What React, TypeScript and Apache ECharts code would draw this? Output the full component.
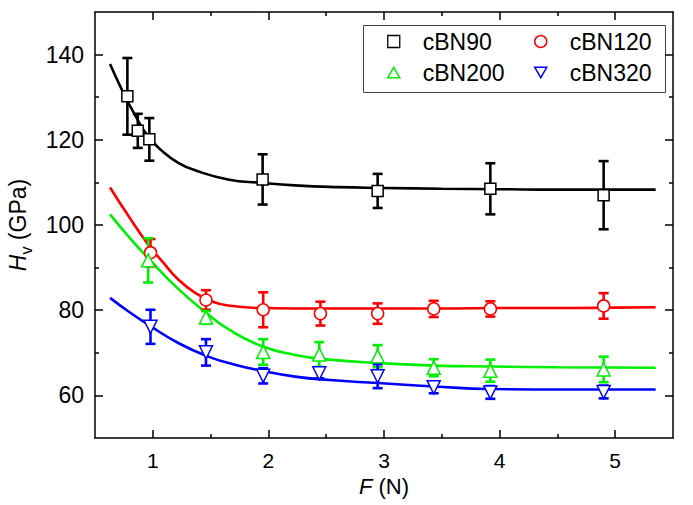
import { useEffect, useRef } from 'react';
import * as echarts from 'echarts';

const FONT = '"Liberation Sans", Arial, Helvetica, sans-serif';

// Tick values
const xTicks = [1, 2, 3, 4, 5];
const xMinor = [1.5, 2.5, 3.5, 4.5];
const yTicks = [60, 80, 100, 120, 140];
const yMinor = [70, 90, 110, 130];

// Measured data (F in N, Hv in GPa, error in GPa)
const cbn90X = [0.78, 0.87, 0.97, 1.95, 2.945, 3.92, 4.9];
const cbn90Y = [130.2, 122.1, 120.1, 110.7, 108.0, 108.5, 107.0];
const cbn90E = [9.0, 4.0, 5.0, 5.9, 4.0, 6.0, 8.0];

const cbn120X = [0.98, 1.46, 1.955, 2.45, 2.945, 3.43, 3.92, 4.9];
const cbn120Y = [93.5, 82.4, 80.1, 79.2, 79.2, 80.3, 80.3, 81.0];
const cbn120E = [3.2, 2.3, 4.1, 2.8, 2.4, 1.9, 1.8, 3.0];

const cbn200X = [0.96, 1.46, 1.955, 2.44, 2.945, 3.43, 3.92, 4.9];
const cbn200Y = [91.7, 78.3, 70.2, 69.6, 69.2, 66.5, 65.8, 66.1];
const cbn200E = [5.2, 1.5, 3.0, 2.9, 2.6, 2.0, 2.6, 3.0];

const cbn320X = [0.98, 1.46, 1.955, 2.44, 2.945, 3.43, 3.92, 4.9];
const cbn320Y = [76.1, 70.1, 64.6, 65.2, 64.5, 61.9, 60.7, 60.8];
const cbn320E = [4.0, 3.1, 1.8, 1.2, 2.8, 1.4, 1.5, 1.5];

// Fitted curves
const fit90X = [0.63, 0.73, 0.85, 0.96, 1.08, 1.22, 1.37, 1.65, 1.94, 2.23, 2.6, 3.0, 3.5, 4.0, 4.5, 5.0, 5.35];
const fit90Y = [137.8, 131.9, 125.6, 120.8, 117.4, 114.6, 112.8, 110.7, 109.9, 109.3, 108.9, 108.7, 108.5, 108.4, 108.3, 108.3, 108.3];

const fit120X = [0.63, 0.79, 0.96, 1.08, 1.22, 1.37, 1.51, 1.65, 1.94, 2.23, 2.6, 3.0, 3.5, 4.0, 4.5, 5.0, 5.35];
const fit120Y = [108.8, 102.1, 95.4, 91.5, 87.2, 84.0, 82.1, 81.1, 80.5, 80.4, 80.4, 80.4, 80.4, 80.5, 80.5, 80.6, 80.7];

const fit200X = [0.63, 0.79, 0.96, 1.22, 1.48, 1.65, 1.94, 2.23, 2.53, 2.95, 3.43, 3.92, 4.5, 5.35];
const fit200Y = [102.5, 97.3, 92.2, 85.0, 79.0, 75.6, 71.6, 69.5, 68.4, 67.6, 67.0, 66.8, 66.6, 66.5];

const fit320X = [0.63, 0.79, 0.96, 1.22, 1.48, 1.71, 1.94, 2.23, 2.53, 2.95, 3.43, 3.92, 4.5, 5.35];
const fit320Y = [82.9, 79.7, 76.6, 72.3, 69.1, 67.2, 65.8, 64.4, 63.6, 62.9, 62.1, 61.5, 61.4, 61.4];

const BLACK = '#000000';
const RED = '#ff0000';
const GREEN = '#00ee00';
const BLUE = '#0000ff';

const zip = (xs: number[], ys: number[]) => xs.map((x, i) => [x, ys[i]]);

function errorSeries(xs: number[], ys: number[], es: number[], color: string) {
  return {
    type: 'custom',
    xAxisIndex: 0,
    yAxisIndex: 0,
    silent: true,
    z: 3,
    data: xs.map((x, i) => [x, ys[i], es[i]]),
    encode: { x: 0, y: 1 },
    renderItem: (_params: any, api: any) => {
      const x = api.value(0);
      const y = api.value(1);
      const e = api.value(2);
      const top = api.coord([x, y + e]);
      const bot = api.coord([x, y - e]);
      const hw = 5;
      const style = { stroke: color, lineWidth: 2.6 };
      return {
        type: 'group',
        children: [
          { type: 'line', shape: { x1: top[0], y1: top[1], x2: bot[0], y2: bot[1] }, style },
          { type: 'line', shape: { x1: top[0] - hw, y1: top[1], x2: top[0] + hw, y2: top[1] }, style },
          { type: 'line', shape: { x1: bot[0] - hw, y1: bot[1], x2: bot[0] + hw, y2: bot[1] }, style },
        ],
      };
    },
  };
}

function fitSeries(xs: number[], ys: number[], color: string) {
  return {
    type: 'line',
    xAxisIndex: 0,
    yAxisIndex: 0,
    data: zip(xs, ys),
    showSymbol: false,
    smooth: 0.5,
    silent: true,
    z: 2,
    lineStyle: { color, width: 2.6 },
  };
}

function pointSeries(name: string, xs: number[], ys: number[], color: string, symbol: string, size: number, rotate = 0) {
  return {
    type: 'scatter',
    name,
    xAxisIndex: 0,
    yAxisIndex: 0,
    data: zip(xs, ys),
    symbol,
    symbolSize: size,
    symbolRotate: rotate,
    z: 5,
    itemStyle: { color: '#ffffff', borderColor: color, borderWidth: 1.5, opacity: 1 },
  };
}

const axisLineStyle = { color: '#000', width: 1.5 };
const majorTick = (vals: number[]) => ({ show: true, inside: true, length: 8, customValues: vals, lineStyle: { color: '#000', width: 1.5 } });
const minorTickStyle = (vals: number[]) => ({ show: true, inside: true, length: 4, customValues: vals, lineStyle: { color: '#000', width: 1.5 } });

const xBase = { type: 'value', min: 0.5, max: 5.5, gridIndex: 0, splitLine: { show: false } };
const yBase = { type: 'value', min: 50, max: 150, gridIndex: 0, splitLine: { show: false } };

const DOWN_TRI = 'path://M0,0 L10,0 L5,8.66 Z';
const UP_TRI = 'path://M5,0 L10,8.66 L0,8.66 Z';

const legendCommon = {
  orient: 'vertical',
  top: 30,
  padding: 0,
  itemWidth: 12,
  itemHeight: 12,
  itemGap: 8,
  selectedMode: false,
  textStyle: { fontSize: 23, color: '#000', fontFamily: FONT, lineHeight: 22, padding: [0, 0, 0, 18] },
};

const option: any = {
  animation: false,
  backgroundColor: '#ffffff',
  textStyle: { fontFamily: FONT },
  grid: { left: 95, right: 20, top: 12, bottom: 67, containLabel: false, outerBoundsMode: 'none' },
  xAxis: [
    {
      ...xBase,
      position: 'bottom',
      axisLine: { show: true, onZero: false, lineStyle: axisLineStyle },
      axisTick: majorTick(xTicks),
      axisLabel: { fontSize: 21, color: '#000', fontFamily: FONT, customValues: xTicks, margin: 12 },
      name: '{i|F} (N)',
      nameLocation: 'middle',
      nameGap: 37,
      nameTextStyle: {
        fontSize: 22,
        color: '#000',
        fontFamily: FONT,
        rich: { i: { fontStyle: 'italic', fontSize: 22, fontFamily: FONT, color: '#000' } },
      },
    },
    { ...xBase, position: 'bottom', axisLine: { show: false, onZero: false }, axisTick: minorTickStyle(xMinor), axisLabel: { show: false } },
    { ...xBase, position: 'top', axisLine: { show: true, onZero: false, lineStyle: axisLineStyle }, axisTick: majorTick(xTicks), axisLabel: { show: false } },
    { ...xBase, position: 'top', axisLine: { show: false, onZero: false }, axisTick: minorTickStyle(xMinor), axisLabel: { show: false } },
  ],
  yAxis: [
    {
      ...yBase,
      position: 'left',
      axisLine: { show: true, onZero: false, lineStyle: axisLineStyle },
      axisTick: majorTick(yTicks),
      axisLabel: { fontSize: 23, color: '#000', fontFamily: FONT, customValues: yTicks, margin: 11 },
      name: '{i|H}{s|v} (GPa)',
      nameLocation: 'middle',
      nameGap: 52,
      nameRotate: 90,
      nameTextStyle: {
        fontSize: 23,
        color: '#000',
        fontFamily: FONT,
        lineHeight: 34,
        rich: {
          i: { fontStyle: 'italic', fontSize: 23, fontFamily: FONT, color: '#000', lineHeight: 34 },
          s: { fontSize: 16, fontFamily: FONT, color: '#000', verticalAlign: 'bottom', lineHeight: 16 },
        },
      },
    },
    { ...yBase, position: 'left', axisLine: { show: false, onZero: false }, axisTick: minorTickStyle(yMinor), axisLabel: { show: false } },
    { ...yBase, position: 'right', axisLine: { show: true, onZero: false, lineStyle: axisLineStyle }, axisTick: majorTick(yTicks), axisLabel: { show: false } },
    { ...yBase, position: 'right', axisLine: { show: false, onZero: false }, axisTick: minorTickStyle(yMinor), axisLabel: { show: false } },
  ],
  legend: [
    {
      ...legendCommon,
      left: 387,
      data: [
        { name: 'cBN90', icon: 'rect', itemStyle: { color: '#fff', borderColor: BLACK, borderWidth: 1.3 } },
        { name: 'cBN200', icon: UP_TRI, itemStyle: { color: '#fff', borderColor: GREEN, borderWidth: 1.5 } },
      ],
    },
    {
      ...legendCommon,
      left: 534,
      data: [
        { name: 'cBN120', icon: 'circle', itemStyle: { color: '#fff', borderColor: RED, borderWidth: 1.5 } },
        { name: 'cBN320', icon: DOWN_TRI, itemStyle: { color: '#fff', borderColor: BLUE, borderWidth: 1.5 } },
      ],
    },
  ],
  graphic: [
    {
      type: 'rect',
      left: 361,
      top: 23,
      shape: { width: 302, height: 67 },
      style: { fill: 'none', stroke: '#444', lineWidth: 1 },
      silent: true,
    },
  ],
  series: [
    fitSeries(fit90X, fit90Y, BLACK),
    fitSeries(fit120X, fit120Y, RED),
    fitSeries(fit200X, fit200Y, GREEN),
    fitSeries(fit320X, fit320Y, BLUE),
    errorSeries(cbn90X, cbn90Y, cbn90E, BLACK),
    errorSeries(cbn120X, cbn120Y, cbn120E, RED),
    errorSeries(cbn200X, cbn200Y, cbn200E, GREEN),
    errorSeries(cbn320X, cbn320Y, cbn320E, BLUE),
    pointSeries('cBN90', cbn90X, cbn90Y, BLACK, 'rect', 11),
    pointSeries('cBN120', cbn120X, cbn120Y, RED, 'circle', 12),
    pointSeries('cBN200', cbn200X, cbn200Y, GREEN, 'triangle', 13),
    pointSeries('cBN320', cbn320X, cbn320Y, BLUE, 'triangle', 13, 180),
  ],
};

export default function App() {
  const ref = useRef<HTMLDivElement>(null);
  useEffect(() => {
    if (!ref.current) return;
    const chart = echarts.init(ref.current, null, { renderer: 'svg' });
    chart.setOption(option);
    return () => chart.dispose();
  }, []);
  return <div ref={ref} style={{ position: 'fixed', left: 0, top: 0, width: 693, height: 505 }} />;
}
